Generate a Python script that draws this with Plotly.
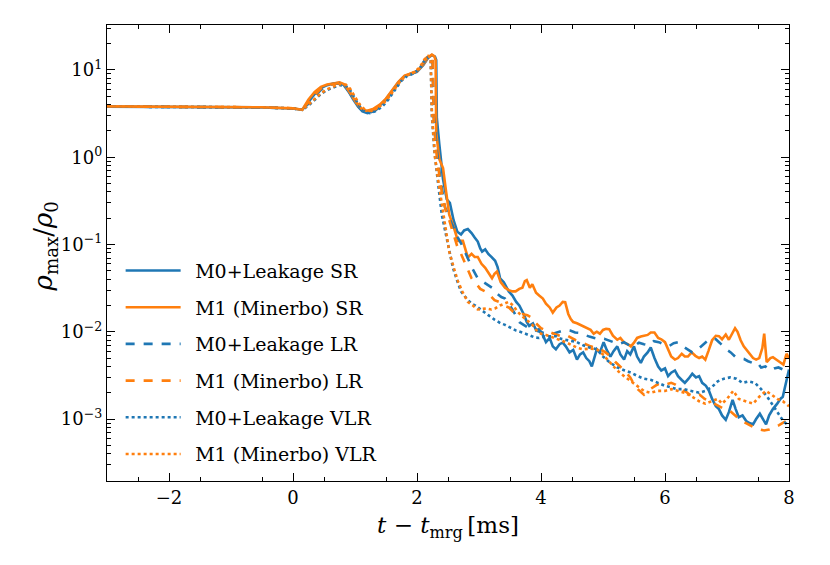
import plotly.graph_objects as go

# ---------------- data ----------------
# common pre-merger / early post-merger time samples
t_pre = [-3.0, -2.5, -2.0, -1.5, -1.0, -0.5, 0.0]
rho_pre_m0 = [3.80, 3.78, 3.80, 3.77, 3.78, 3.72, 3.62]
rho_pre_m1 = [3.82, 3.80, 3.79, 3.79, 3.77, 3.73, 3.63]

# M0+Leakage SR
t_m0_sr = [0.15, 0.25, 0.35, 0.45, 0.55, 0.65, 0.75, 0.82, 0.9, 0.97, 1.05, 1.12, 1.2, 1.3, 1.4, 1.5,
           1.6, 1.7, 1.8, 1.9, 2.0, 2.1, 2.18, 2.24, 2.29, 2.31, 2.32, 2.36, 2.42, 2.48, 2.53, 2.59,
           2.65, 2.71, 2.76, 2.82, 2.88, 2.93, 2.98, 3.02, 3.05, 3.10, 3.15, 3.20, 3.26, 3.30, 3.34,
           3.40, 3.48, 3.54, 3.60, 3.65, 3.72, 3.77, 3.81, 3.87, 3.92, 3.97, 4.02, 4.08, 4.14, 4.19,
           4.24, 4.30, 4.35, 4.40, 4.46, 4.52, 4.58, 4.63, 4.68, 4.73, 4.78, 4.82, 4.86, 4.90, 4.95,
           5.01, 5.06, 5.12, 5.17, 5.23, 5.28, 5.34, 5.39, 5.44, 5.50, 5.55, 5.61, 5.66, 5.72, 5.77,
           5.83, 5.89, 5.94, 6.00, 6.05, 6.10, 6.16, 6.21, 6.27, 6.32, 6.38, 6.44, 6.50, 6.55, 6.60,
           6.66, 6.71, 6.76, 6.82, 6.87, 6.92, 6.98, 7.03, 7.09, 7.14, 7.19, 7.25, 7.31, 7.36, 7.42,
           7.47, 7.53, 7.58, 7.63, 7.68, 7.74, 7.81, 7.86, 7.90, 7.95, 8.0]
rho_m0_sr = [3.50, 4.3, 5.3, 6.2, 6.7, 7.0, 7.1, 6.7, 5.6, 4.6, 3.8, 3.35, 3.2, 3.4, 3.9, 4.6,
             5.7, 7.2, 8.5, 9.0, 9.5, 11.3, 13.8, 14.8, 14.2, 13.0, 2.8, 1.4, 0.56, 0.33, 0.30, 0.19,
             0.14, 0.13, 0.145, 0.15, 0.135, 0.12, 0.108, 0.09, 0.083, 0.088, 0.078, 0.072, 0.065, 0.055, 0.041,
             0.037, 0.029, 0.026, 0.022, 0.020, 0.016, 0.013, 0.0117, 0.0125, 0.0105, 0.0107, 0.0095, 0.0076, 0.0085, 0.0068,
             0.0063, 0.0072, 0.0075, 0.0068, 0.0058, 0.0062, 0.0048, 0.0055, 0.0058, 0.0050, 0.0046, 0.0040, 0.0052, 0.0063, 0.0058,
             0.0076, 0.0062, 0.0052, 0.0060, 0.0068, 0.0055, 0.0048, 0.0060, 0.0055, 0.0068, 0.0052, 0.0044, 0.0052, 0.0058, 0.0066,
             0.0050, 0.0040, 0.0036, 0.0038, 0.0031, 0.0034, 0.0036, 0.0031, 0.0028, 0.0026, 0.0029, 0.0033, 0.0030, 0.0031, 0.0026,
             0.0024, 0.0021, 0.0017, 0.0014, 0.0013, 0.0011, 0.00098, 0.0012, 0.00166, 0.0013, 0.00105, 0.0011, 0.00095, 0.0009, 0.00087,
             0.0010, 0.00115, 0.0010, 0.00087, 0.0011, 0.0013, 0.0015, 0.0017, 0.0018, 0.0025, 0.0037]

# M1 (Minerbo) SR
t_m1_sr = [0.15, 0.25, 0.35, 0.45, 0.55, 0.65, 0.75, 0.82, 0.9, 0.97, 1.05, 1.12, 1.2, 1.3, 1.4, 1.5,
           1.6, 1.7, 1.8, 1.9, 2.0, 2.1, 2.18, 2.24, 2.28, 2.30, 2.31, 2.36, 2.42, 2.47, 2.52, 2.59,
           2.66, 2.74, 2.82, 2.88, 2.93, 2.98, 3.04, 3.10, 3.15, 3.21, 3.25, 3.29, 3.35, 3.42, 3.48,
           3.54, 3.59, 3.65, 3.70, 3.74, 3.77, 3.82, 3.86, 3.92, 3.97, 4.03, 4.08, 4.14, 4.19, 4.25,
           4.30, 4.35, 4.39, 4.44, 4.48, 4.52, 4.58, 4.63, 4.68, 4.74, 4.80, 4.85, 4.90, 4.95, 5.00,
           5.05, 5.10, 5.16, 5.23, 5.28, 5.34, 5.40, 5.45, 5.50, 5.55, 5.61, 5.66, 5.72, 5.77, 5.83,
           5.89, 5.94, 6.00, 6.05, 6.10, 6.16, 6.21, 6.27, 6.32, 6.37, 6.43, 6.49, 6.55, 6.60, 6.65,
           6.70, 6.76, 6.82, 6.87, 6.92, 6.98, 7.03, 7.08, 7.13, 7.17, 7.22, 7.27, 7.31, 7.37, 7.42,
           7.47, 7.52, 7.57, 7.60, 7.64, 7.70, 7.74, 7.80, 7.85, 7.91, 7.96, 8.0]
rho_m1_sr = [3.50, 4.6, 5.6, 6.4, 6.8, 7.0, 7.2, 6.9, 5.9, 4.8, 3.9, 3.5, 3.4, 3.6, 4.0, 4.7,
             5.8, 7.3, 8.6, 9.1, 9.6, 11.5, 14.0, 15.0, 14.3, 13.0, 1.9, 0.95, 0.75, 0.40, 0.22, 0.16,
             0.11, 0.11, 0.071, 0.078, 0.072, 0.072, 0.060, 0.054, 0.048, 0.041, 0.046, 0.049, 0.037, 0.032, 0.030,
             0.029, 0.029, 0.031, 0.032, 0.038, 0.039, 0.032, 0.035, 0.028, 0.026, 0.024, 0.021, 0.019, 0.0166, 0.019,
             0.020, 0.022, 0.0218, 0.016, 0.014, 0.0129, 0.0125, 0.0120, 0.0117, 0.0110, 0.0105, 0.0095, 0.0100, 0.0095, 0.0105,
             0.0108, 0.0107, 0.0090, 0.0081, 0.0085, 0.0075, 0.0072, 0.0068, 0.0075, 0.0085, 0.0088, 0.0089, 0.0092, 0.0098, 0.0098,
             0.0085, 0.0082, 0.0076, 0.0062, 0.0052, 0.0048, 0.0050, 0.0056, 0.0052, 0.0052, 0.0058, 0.0053, 0.0050, 0.0052, 0.0048,
             0.0060, 0.0080, 0.0090, 0.0089, 0.0082, 0.0093, 0.0081, 0.0095, 0.0110, 0.0100, 0.0080, 0.0068, 0.0063, 0.0055, 0.0050,
             0.0048, 0.0050, 0.0065, 0.0095, 0.0045, 0.0050, 0.0051, 0.0047, 0.0045, 0.0042, 0.0056, 0.0050]

# M0+Leakage LR
t_m0_lr = [0.15, 0.25, 0.35, 0.45, 0.55, 0.65, 0.75, 0.83, 0.9, 0.98, 1.06, 1.14, 1.22, 1.32, 1.42, 1.52,
           1.62, 1.72, 1.82, 1.92, 2.02, 2.1, 2.16, 2.20, 2.25, 2.27, 2.32, 2.38, 2.45, 2.52, 2.58,
           2.66, 2.72, 2.77, 2.84, 2.90, 2.98, 3.05, 3.12, 3.21, 3.30, 3.36, 3.42, 3.50, 3.58, 3.65,
           3.72, 3.79, 3.86, 3.94, 4.00, 4.07, 4.14, 4.22, 4.30, 4.38, 4.47, 4.55, 4.62, 4.70, 4.78,
           4.86, 4.95, 5.02, 5.10, 5.18, 5.26, 5.34, 5.42, 5.50, 5.58, 5.66, 5.74, 5.82, 5.90, 5.98,
           6.06, 6.14, 6.21, 6.29, 6.37, 6.44, 6.52, 6.60, 6.68, 6.75, 6.82, 6.88, 6.94, 7.00, 7.06,
           7.13, 7.20, 7.27, 7.34, 7.41, 7.48, 7.55, 7.62, 7.69, 7.76, 7.83, 7.90, 7.96, 8.0]
rho_m0_lr = [3.50, 4.1, 5.0, 5.9, 6.5, 6.9, 7.0, 6.6, 5.7, 4.6, 3.8, 3.3, 3.2, 3.4, 3.9, 4.7,
             5.9, 7.3, 8.5, 9.1, 9.8, 11.8, 13.8, 14.6, 14.0, 3.0, 1.2, 0.55, 0.27, 0.20, 0.16,
             0.12, 0.10, 0.083, 0.065, 0.052, 0.041, 0.038, 0.035, 0.032, 0.027, 0.025, 0.024, 0.020, 0.016, 0.0129,
             0.012, 0.0112, 0.0107, 0.0102, 0.0098, 0.0095, 0.0092, 0.0096, 0.0100, 0.0105, 0.0103, 0.0098, 0.0097, 0.0092, 0.0088,
             0.0085, 0.0082, 0.0083, 0.0079, 0.0075, 0.0072, 0.0076, 0.0070, 0.0068, 0.0075, 0.0072, 0.0070, 0.0078, 0.0076, 0.0072,
             0.0068, 0.0074, 0.0076, 0.0068, 0.0062, 0.0058, 0.0062, 0.0070, 0.0078, 0.0084, 0.0082, 0.0075, 0.0068, 0.0062, 0.0058,
             0.0052, 0.0050, 0.0049, 0.0046, 0.0044, 0.0045, 0.0039, 0.0040, 0.0036, 0.0038, 0.0039, 0.0037, 0.0040, 0.0042]

# M1 (Minerbo) LR
t_m1_lr = [0.15, 0.25, 0.35, 0.45, 0.55, 0.65, 0.75, 0.83, 0.9, 0.98, 1.06, 1.14, 1.22, 1.32, 1.42, 1.52,
           1.62, 1.72, 1.82, 1.92, 2.02, 2.1, 2.16, 2.20, 2.25, 2.27, 2.32, 2.40, 2.46, 2.52, 2.60,
           2.66, 2.71, 2.78, 2.84, 2.88, 2.95, 3.02, 3.10, 3.18, 3.25, 3.32, 3.40, 3.48, 3.55, 3.62,
           3.70, 3.78, 3.85, 3.92, 4.00, 4.08, 4.16, 4.24, 4.32, 4.40, 4.48, 4.56, 4.64, 4.72, 4.80,
           4.88, 4.96, 5.04, 5.12, 5.20, 5.28, 5.36, 5.44, 5.50, 5.56, 5.62, 5.66, 5.72, 5.80, 5.88,
           5.94, 6.02, 6.10, 6.16, 6.24, 6.32, 6.40, 6.48, 6.56, 6.64, 6.72, 6.80, 6.88, 6.96, 7.04,
           7.12, 7.20, 7.28, 7.36, 7.44, 7.52, 7.60, 7.68, 7.76, 7.84, 7.92, 8.0]
rho_m1_lr = [3.50, 4.3, 5.2, 6.1, 6.6, 6.9, 7.1, 6.8, 5.8, 4.7, 3.9, 3.4, 3.3, 3.5, 4.0, 4.8,
             6.0, 7.4, 8.6, 9.2, 9.9, 12.0, 14.0, 14.8, 14.2, 2.5, 1.0, 0.40, 0.25, 0.19, 0.12,
             0.09, 0.078, 0.060, 0.050, 0.041, 0.036, 0.031, 0.029, 0.026, 0.023, 0.022, 0.020, 0.019, 0.017, 0.0160,
             0.0160, 0.0155, 0.0145, 0.0125, 0.0110, 0.0103, 0.0098, 0.0093, 0.0089, 0.0092, 0.0085, 0.0080, 0.0076, 0.0072, 0.0068,
             0.0066, 0.0063, 0.0058, 0.0052, 0.0045, 0.0040, 0.0035, 0.0030, 0.0025, 0.0022, 0.0020, 0.0019, 0.0021, 0.0023, 0.0025,
             0.0024, 0.0025, 0.0026, 0.0025, 0.0023, 0.0021, 0.0019, 0.0018, 0.0019, 0.0017, 0.0016, 0.0015, 0.0014, 0.0013, 0.00125,
             0.00112, 0.0010, 0.00092, 0.00085, 0.00080, 0.00076, 0.00074, 0.00076, 0.00080, 0.00085, 0.00092, 0.00098]

# M0+Leakage VLR
t_m0_vlr = [0.15, 0.25, 0.35, 0.45, 0.55, 0.65, 0.75, 0.85, 0.92, 1.0, 1.08, 1.16, 1.24, 1.34, 1.44, 1.54,
            1.64, 1.74, 1.84, 1.94, 2.04, 2.12, 2.18, 2.22, 2.24, 2.28, 2.34, 2.40, 2.44, 2.50, 2.58,
            2.65, 2.71, 2.80, 2.88, 2.94, 3.02, 3.10, 3.15, 3.25, 3.35, 3.42, 3.52, 3.60, 3.70, 3.80,
            3.90, 3.97, 4.05, 4.14, 4.24, 4.32, 4.42, 4.50, 4.58, 4.68, 4.78, 4.90, 5.00, 5.10, 5.23,
            5.35, 5.45, 5.56, 5.66, 5.78, 5.89, 6.00, 6.10, 6.20, 6.30, 6.44, 6.55, 6.65, 6.75, 6.85,
            6.95, 7.05, 7.15, 7.25, 7.35, 7.45, 7.55, 7.65, 7.75, 7.85, 7.92, 8.0]
rho_m0_vlr = [3.50, 3.9, 4.6, 5.3, 5.9, 6.3, 6.7, 6.6, 5.9, 4.7, 3.8, 3.3, 3.2, 3.4, 3.8, 4.6,
              5.9, 7.4, 8.5, 9.1, 10.3, 12.8, 14.0, 13.5, 3.0, 1.2, 0.5, 0.22, 0.16, 0.10, 0.054,
              0.038, 0.029, 0.024, 0.021, 0.020, 0.018, 0.0165, 0.0155, 0.0138, 0.0125, 0.0120, 0.0110, 0.0103, 0.0098, 0.0092,
              0.0086, 0.0085, 0.0088, 0.0089, 0.0089, 0.0083, 0.0080, 0.0078, 0.0076, 0.0070, 0.0066, 0.0063, 0.0052, 0.0045, 0.0039,
              0.0036, 0.0034, 0.0031, 0.0029, 0.0028, 0.0026, 0.0024, 0.0023, 0.0022, 0.0022, 0.0021, 0.0020, 0.0021, 0.0023, 0.0027,
              0.0029, 0.0030, 0.0029, 0.0026, 0.0027, 0.0026, 0.0022, 0.0018, 0.0014, 0.0011, 0.00092, 0.00085]

# M1 (Minerbo) VLR
t_m1_vlr = [0.15, 0.25, 0.35, 0.45, 0.55, 0.65, 0.75, 0.85, 0.92, 1.0, 1.08, 1.16, 1.24, 1.34, 1.44, 1.54,
            1.64, 1.74, 1.84, 1.94, 2.04, 2.12, 2.18, 2.22, 2.24, 2.29, 2.35, 2.42, 2.47, 2.52, 2.59,
            2.66, 2.74, 2.82, 2.90, 2.98, 3.04, 3.12, 3.20, 3.26, 3.34, 3.40, 3.48, 3.55, 3.62, 3.70,
            3.78, 3.86, 3.92, 4.00, 4.08, 4.14, 4.22, 4.30, 4.40, 4.50, 4.60, 4.68, 4.78, 4.90, 5.00,
            5.12, 5.23, 5.34, 5.45, 5.56, 5.66, 5.77, 5.88, 6.00, 6.10, 6.21, 6.32, 6.44, 6.55, 6.65,
            6.75, 6.85, 6.92, 7.00, 7.10, 7.19, 7.30, 7.42, 7.52, 7.63, 7.72, 7.81, 7.90, 8.0]
rho_m1_vlr = [3.50, 4.0, 4.7, 5.4, 6.0, 6.5, 6.9, 6.8, 6.1, 4.9, 4.0, 3.5, 3.4, 3.6, 4.0, 4.8,
              6.1, 7.6, 8.7, 9.3, 10.6, 13.2, 14.5, 13.8, 3.2, 1.0, 0.50, 0.245, 0.14, 0.083, 0.055,
              0.038, 0.028, 0.022, 0.020, 0.018, 0.0182, 0.0185, 0.0180, 0.0185, 0.020, 0.021, 0.022, 0.020, 0.017, 0.015,
              0.0135, 0.012, 0.0105, 0.0095, 0.0092, 0.0089, 0.0085, 0.0080, 0.0076, 0.0070, 0.0065, 0.0063, 0.0064, 0.0063, 0.0055,
              0.0044, 0.0036, 0.0031, 0.0027, 0.0024, 0.0021, 0.0020, 0.0021, 0.0021, 0.0022, 0.0021, 0.0020, 0.0018, 0.0016, 0.0015,
              0.0016, 0.0017, 0.0015, 0.0017, 0.0021, 0.0017, 0.0016, 0.0015, 0.0018, 0.0021, 0.0019, 0.0017, 0.0016, 0.0014]

labels = ["M0+Leakage SR", "M1 (Minerbo) SR", "M0+Leakage LR",
          "M1 (Minerbo) LR", "M0+Leakage VLR", "M1 (Minerbo) VLR"]

x_ticks = [-2, 0, 2, 4, 6, 8]
x_ticktext = ["−2", "0", "2", "4", "6", "8"]
y_ticks = [1e-3, 1e-2, 1e-1, 1, 10]
y_ticktext = ["10<sup>−3</sup>", "10<sup>−2</sup>", "10<sup>−1</sup>", "10<sup>0</sup>", "10<sup>1</sup>"]

# ---------------- figure ----------------
BLUE = "#1f77b4"
ORANGE = "#ff7f0e"
FONT = "DejaVu Serif"

series = [
    (t_m0_sr, rho_m0_sr, rho_pre_m0, BLUE, "solid"),
    (t_m1_sr, rho_m1_sr, rho_pre_m1, ORANGE, "solid"),
    (t_m0_lr, rho_m0_lr, rho_pre_m0, BLUE, "dash"),
    (t_m1_lr, rho_m1_lr, rho_pre_m1, ORANGE, "dash"),
    (t_m0_vlr, rho_m0_vlr, rho_pre_m0, BLUE, "dot"),
    (t_m1_vlr, rho_m1_vlr, rho_pre_m1, ORANGE, "dot"),
]

fig = go.Figure()
for i, (t, r, pre, col, dash) in enumerate(series):
    fig.add_trace(go.Scatter(
        x=t_pre + t, y=pre + r, mode="lines", name="\u2002" + labels[i],
        legendgroup=f"g{i}",
        line=dict(color=col, width=2.6, dash=dash),
    ))

minor_y = [m * 10.0 ** k for k in range(-4, 2) for m in range(2, 10)]
minor_x = [v / 2 for v in range(-6, 17) if v % 2 != 0]

# note: the page body adds an 8 px offset, margins compensate for it
fig.update_layout(
    width=830, height=565,
    margin=dict(l=99, r=49, t=17, b=92, autoexpand=False),
    paper_bgcolor="white", plot_bgcolor="white",
    font=dict(family=FONT, size=18, color="black"),
    showlegend=True,
    legend=dict(
        x=0.02, y=0.503, xanchor="left", yanchor="top",
        bgcolor="rgba(255,255,255,0)", borderwidth=0,
        font=dict(family=FONT, size=19, color="black"),
        tracegroupgap=9, itemwidth=55, traceorder="grouped",
    ),
    xaxis=dict(
        range=[-3, 8], showgrid=False, zeroline=False,
        showline=True, linecolor="black", linewidth=1.3, mirror="ticks",
        ticks="inside", ticklen=8, tickwidth=1.2, tickcolor="black",
        tickvals=x_ticks, ticktext=x_ticktext,
        minor=dict(ticks="inside", ticklen=4, tickwidth=1.0, tickcolor="black",
                   tickvals=minor_x, showgrid=False),
        title=dict(text="<i>t</i> − <i>t</i><sub>mrg</sub>\u2009[ms]",
                   font=dict(size=23), standoff=10),
        tickfont=dict(size=18),
    ),
    yaxis=dict(
        type="log", range=[-3.71, 1.515], showgrid=False, zeroline=False,
        showline=True, linecolor="black", linewidth=1.3, mirror="ticks",
        ticks="inside", ticklen=8, tickwidth=1.2, tickcolor="black",
        tickvals=y_ticks, ticktext=y_ticktext,
        minor=dict(ticks="inside", ticklen=4, tickwidth=1.0, tickcolor="black",
                   tickvals=minor_y, showgrid=False),
        tickfont=dict(size=18),
    ),
    annotations=[dict(
        text="<i>ρ</i><sub>max</sub>/<i>ρ</i><sub>0</sub>",
        xref="paper", yref="paper", x=-0.092, y=0.515,
        xanchor="center", yanchor="middle", textangle=-90,
        showarrow=False, font=dict(family=FONT, size=26, color="black"),
    )],
)

fig.write_html("out.html")
